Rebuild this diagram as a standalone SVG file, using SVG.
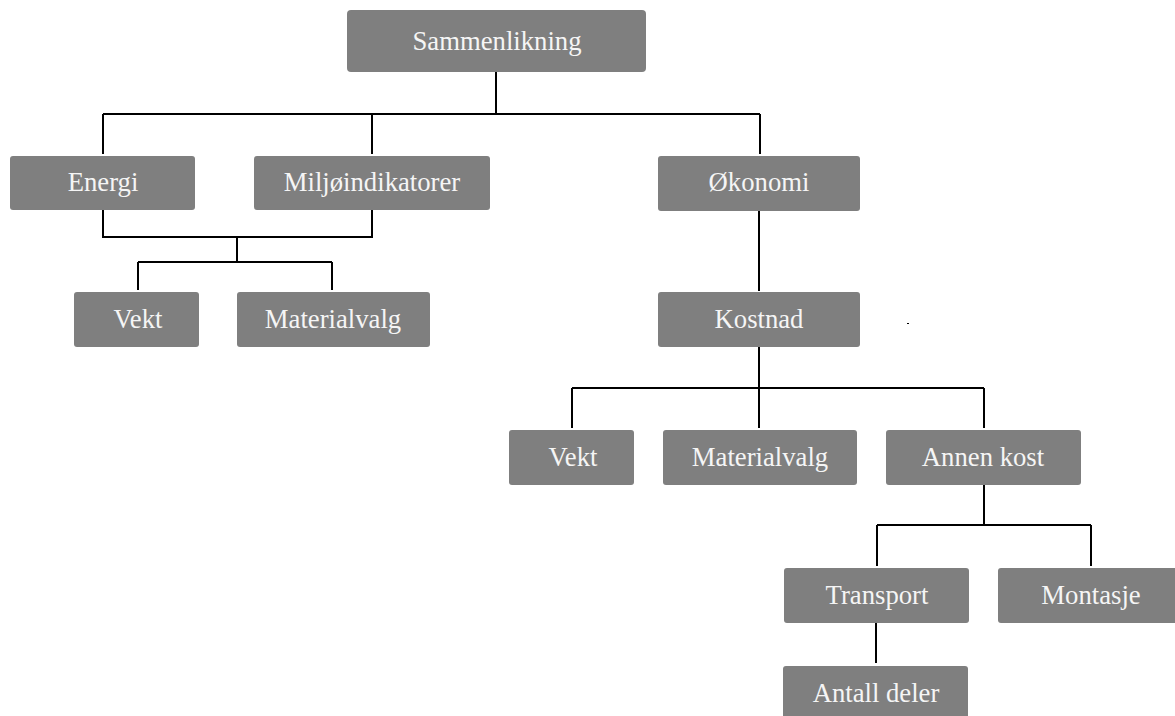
<svg xmlns="http://www.w3.org/2000/svg" width="1175" height="716" viewBox="0 0 1175 716">
<style>
.box{fill:#7f7f7f;}
.lbl{font-family:"Liberation Serif","Times New Roman",serif;font-size:26.7px;fill:#f5f5f5;text-anchor:middle;}
.con{fill:none;stroke:#000;stroke-width:2;}
</style>
<rect width="1175" height="716" fill="#fff"/>
<g id="connectors">
<path class="con" d="M496,72 V114 M103,114 H760 M103,114 V154 M372,114 V154 M760,114 V154"/>
<path class="con" d="M103,210 V237 H372 V210 M237,237 V262 M138,262 H332 M138,262 V290 M332,262 V290"/>
<path class="con" d="M759,211 V291"/>
<path class="con" d="M759,347 V388 M572,388 H984 M572,388 V428 M759,388 V428 M984,388 V428"/>
<path class="con" d="M984,485 V525 M877,525 H1091 M877,525 V566 M1091,525 V566"/>
<path class="con" d="M876,623 V663"/>
</g>
<g id="n-sammenlikning"><rect class="box" x="347" y="10" width="299" height="62" rx="4"/><text class="lbl" x="497" y="50">Sammenlikning</text></g>
<g id="n-energi"><rect class="box" x="10" y="156" width="185" height="54" rx="3"/><text class="lbl" x="103" y="191">Energi</text></g>
<g id="n-miljo"><rect class="box" x="254" y="156" width="236" height="54" rx="3"/><text class="lbl" x="372" y="191">Miljøindikatorer</text></g>
<g id="n-okonomi"><rect class="box" x="658" y="156" width="202" height="55" rx="3"/><text class="lbl" x="759" y="191">Økonomi</text></g>
<g id="n-vekt1"><rect class="box" x="74" y="292" width="125" height="55" rx="3"/><text class="lbl" x="138" y="328">Vekt</text></g>
<g id="n-material1"><rect class="box" x="237" y="292" width="193" height="55" rx="3"/><text class="lbl" x="333" y="328">Materialvalg</text></g>
<g id="n-kostnad"><rect class="box" x="658" y="292" width="202" height="55" rx="3"/><text class="lbl" x="759" y="328">Kostnad</text></g>
<g id="n-vekt2"><rect class="box" x="509" y="430" width="125" height="55" rx="3"/><text class="lbl" x="573" y="466">Vekt</text></g>
<g id="n-material2"><rect class="box" x="663" y="430" width="194" height="55" rx="3"/><text class="lbl" x="760" y="466">Materialvalg</text></g>
<g id="n-annen"><rect class="box" x="886" y="430" width="195" height="55" rx="3"/><text class="lbl" x="983" y="466">Annen kost</text></g>
<g id="n-transport"><rect class="box" x="784" y="568" width="185" height="55" rx="3"/><text class="lbl" x="877" y="604">Transport</text></g>
<g id="n-montasje"><rect class="box" x="998" y="568" width="190" height="55" rx="3"/><text class="lbl" x="1091" y="604">Montasje</text></g>
<g id="n-antall"><rect class="box" x="783" y="666" width="185" height="60" rx="3"/><text class="lbl" x="876" y="702">Antall deler</text></g>
<rect x="907" y="323" width="2" height="1" fill="#000"/>
</svg>
